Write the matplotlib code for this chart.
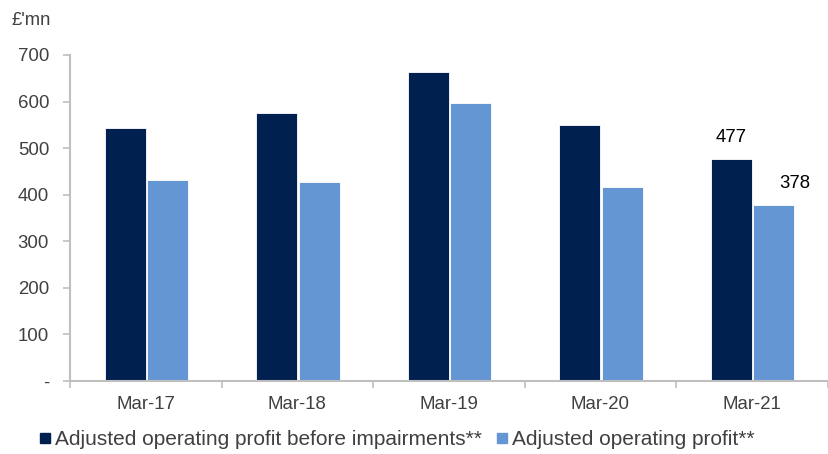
import numpy as np
import matplotlib
matplotlib.use('Agg')
import matplotlib.pyplot as plt
from matplotlib.lines import Line2D

plt.rcParams['font.family'] = ['Liberation Sans', 'DejaVu Sans']

# data
years = ['Mar-17', 'Mar-18', 'Mar-19', 'Mar-20', 'Mar-21']
before_impairments = [543, 575, 663, 550, 477]
adjusted_profit = [432, 427, 597, 417, 378]
series_names = ['Adjusted operating profit before impairments**', 'Adjusted operating profit**']
y_ticks = [0, 100, 200, 300, 400, 500, 600, 700]
y_tick_labels = ['-', '100', '200', '300', '400', '500', '600', '700']

dark = '#002050'
light = '#6596d4'
grey_txt = '#404040'
grey_ax = '#bfbfbf'

fig = plt.figure(figsize=(8.29, 4.54), dpi=100)
ax = fig.add_axes([0.0844, 0.161, 0.914, 0.718])

x = np.arange(len(years))
w = 0.27
ax.bar(x - 0.135, before_impairments, w, color=dark, edgecolor='white', linewidth=0.6)
ax.bar(x + 0.145, adjusted_profit, w, color=light, edgecolor='white', linewidth=0.6)

# labels only on last year
ax.text(x[-1] - 0.135, before_impairments[-1] + 28, str(before_impairments[-1]),
        ha='center', va='bottom', fontsize=13.4, color='black')
ax.text(x[-1] + 0.145 + 0.14, adjusted_profit[-1] + 27, str(adjusted_profit[-1]),
        ha='center', va='bottom', fontsize=13.4, color='black')

ax.set_xlim(-0.5, len(years) - 0.5)
ax.set_ylim(0, 700)
ax.set_yticks(y_ticks)
ax.set_yticklabels(y_tick_labels)
ax.set_xticks(x)
ax.set_xticklabels(years)
ax.set_xticks(np.arange(len(years) + 1) - 0.5, minor=True)

for s in ['top', 'right']:
    ax.spines[s].set_visible(False)
for s in ['left', 'bottom']:
    ax.spines[s].set_color(grey_ax)
    ax.spines[s].set_linewidth(1.5)

ax.tick_params(axis='y', colors=grey_ax, labelcolor=grey_txt, labelsize=13.4, length=5, width=1.2, pad=10)
ax.tick_params(axis='x', which='major', length=0, labelcolor=grey_txt, labelsize=13.4, pad=11)
ax.tick_params(axis='x', which='minor', colors=grey_ax, length=5, width=1.2)

fig.text(0.014, 0.937, "£'mn", fontsize=13.2, color=grey_txt, ha='left', va='bottom')

handles = [Line2D([], [], marker='s', linestyle='none', color=dark, markersize=7),
           Line2D([], [], marker='s', linestyle='none', color=light, markersize=7)]
fig.legend(handles, series_names, loc='center left', bbox_to_anchor=(0.022, 0.032), ncol=2,
           frameon=False, fontsize=15, labelcolor=grey_txt, handletextpad=0.05,
           columnspacing=0.6, handlelength=0.8)

fig.savefig('out.png', dpi=100)
